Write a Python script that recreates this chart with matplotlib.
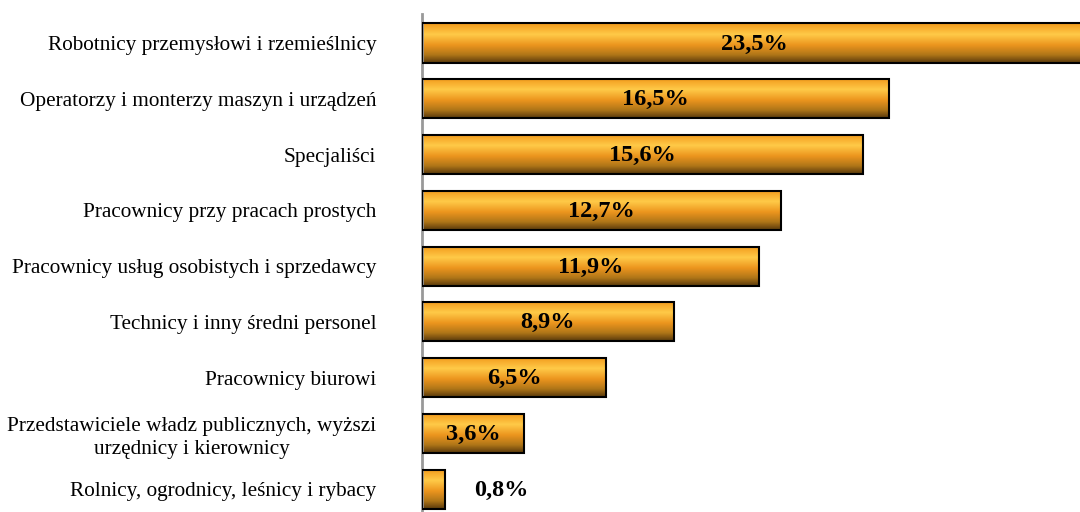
import matplotlib
matplotlib.use('Agg')
from matplotlib import pyplot as plt
from matplotlib.colors import LinearSegmentedColormap
import numpy as np

categories = [
    'Robotnicy przemysłowi i rzemieślnicy',
    'Operatorzy i monterzy maszyn i urządzeń',
    'Specjaliści',
    'Pracownicy przy pracach prostych',
    'Pracownicy usług osobistych i sprzedawcy',
    'Technicy i inny średni personel',
    'Pracownicy biurowi',
    'Przedstawiciele władz publicznych, wyższi\nurzędnicy i kierownicy',
    'Rolnicy, ogrodnicy, leśnicy i rybacy',
]
values = [23.5, 16.5, 15.6, 12.7, 11.9, 8.9, 6.5, 3.6, 0.8]
labels = ['23,5%', '16,5%', '15,6%', '12,7%', '11,9%', '8,9%', '6,5%', '3,6%', '0,8%']

plt.rcParams['font.family'] = ['Liberation Serif', 'DejaVu Serif']

fig = plt.figure(figsize=(10.8, 5.12), dpi=100)
ax = fig.add_axes([422 / 1080, 0, 1 - 422 / 1080, 1 - 14 / 512])

# gradient pionowy jak w Excelu
grad = LinearSegmentedColormap.from_list('zloty', [
    (0.0, '#F29A1C'),
    (0.28, '#FFCA48'),
    (0.55, '#EC951E'),
    (0.8, '#B07618'),
    (1.0, '#5A3A0C'),
])
g = np.linspace(0, 1, 64).reshape(-1, 1)

h = 0.7
y = np.arange(len(values))
for i, v in enumerate(values):
    ax.imshow(g, cmap=grad, aspect='auto', extent=(0, v, i + h / 2, i - h / 2),
              zorder=2, interpolation='bilinear')
ax.barh(y, values, height=h, facecolor='none', edgecolor='black', linewidth=1.5, zorder=3)

for i, (v, t) in enumerate(zip(values, labels)):
    x = v / 2 if v > 2 else v + 2
    ax.text(x, i + 0.02, t, ha='center', va='center', fontsize=17.5, fontweight='bold', zorder=4)

ax.set_xlim(0, 23.25)
ax.set_ylim(8.41, -0.52)
ax.set_yticks(y)
ax.set_yticklabels(categories, fontsize=15.3, multialignment='center', linespacing=1.3)
ax.tick_params(axis='y', length=0, pad=33)
ax.set_xticks([])
for s in ['top', 'right', 'bottom']:
    ax.spines[s].set_visible(False)
ax.spines['left'].set_color('#999999')
ax.spines['left'].set_linewidth(2)

fig.savefig('out.png', dpi=100)
